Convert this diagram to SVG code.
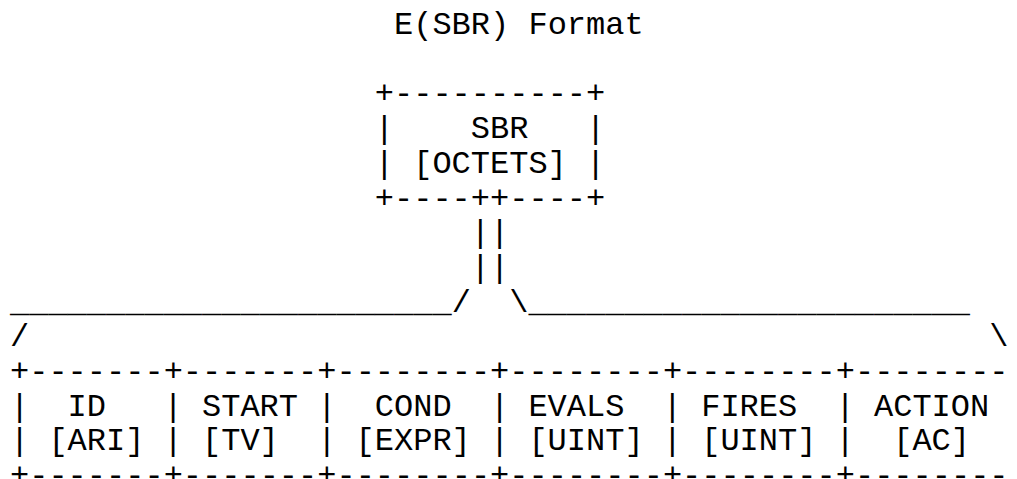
<svg xmlns="http://www.w3.org/2000/svg" width="1017" height="479" viewBox="0 0 1017 479">
<style>
text{font-family:"Liberation Mono","DejaVu Sans Mono",monospace;font-size:32px;fill:#000;white-space:pre}
</style>
<rect x="0" y="0" width="1017" height="479" fill="#fff"/>
<g id="title"><text x="394" y="34">E(SBR) Format</text></g>
<g id="sbr">
<text x="374.8" y="103.4">+----------+</text>
<text x="374.8" y="138.1">|</text><text x="586" y="138.1">|</text>
<text x="470.8" y="138.1">SBR</text>
<text x="374.8" y="172.8">|</text><text x="586" y="172.8">|</text>
<text x="413.2" y="172.8">[OCTETS]</text>
<text x="374.8" y="207.5">+----++----+</text>
</g>
<g id="connectors">
<text x="470.8" y="242.2">||</text>
<text x="470.8" y="276.9">||</text>
<text x="10" y="311.6">_______________________/</text>
<text x="509.2" y="311.6">\_______________________</text>
<text x="10" y="346.3">/</text>
<text x="989.2" y="346.3">\</text>
</g>
<g id="fields">
<g id="grid">
<text x="10" y="381">+-------+-------+--------+--------+--------+--------</text>
<text x="10" y="415.7">|</text><text x="163.6" y="415.7">|</text><text x="317.2" y="415.7">|</text><text x="490" y="415.7">|</text><text x="662.8" y="415.7">|</text><text x="835.6" y="415.7">|</text>
<text x="10" y="450.4">|</text><text x="163.6" y="450.4">|</text><text x="317.2" y="450.4">|</text><text x="490" y="450.4">|</text><text x="662.8" y="450.4">|</text><text x="835.6" y="450.4">|</text>
<text x="10" y="485.1">+-------+-------+--------+--------+--------+--------</text>
</g>
<g id="field-id"><text x="67.6" y="415.7">ID</text><text x="48.4" y="450.4">[ARI]</text></g>
<g id="field-start"><text x="202" y="415.7">START</text><text x="202" y="450.4">[TV]</text></g>
<g id="field-cond"><text x="374.8" y="415.7">COND</text><text x="355.6" y="450.4">[EXPR]</text></g>
<g id="field-evals"><text x="528.4" y="415.7">EVALS</text><text x="528.4" y="450.4">[UINT]</text></g>
<g id="field-fires"><text x="701.2" y="415.7">FIRES</text><text x="701.2" y="450.4">[UINT]</text></g>
<g id="field-action"><text x="874" y="415.7">ACTION</text><text x="893.2" y="450.4">[AC]</text></g>
</g>
</svg>
